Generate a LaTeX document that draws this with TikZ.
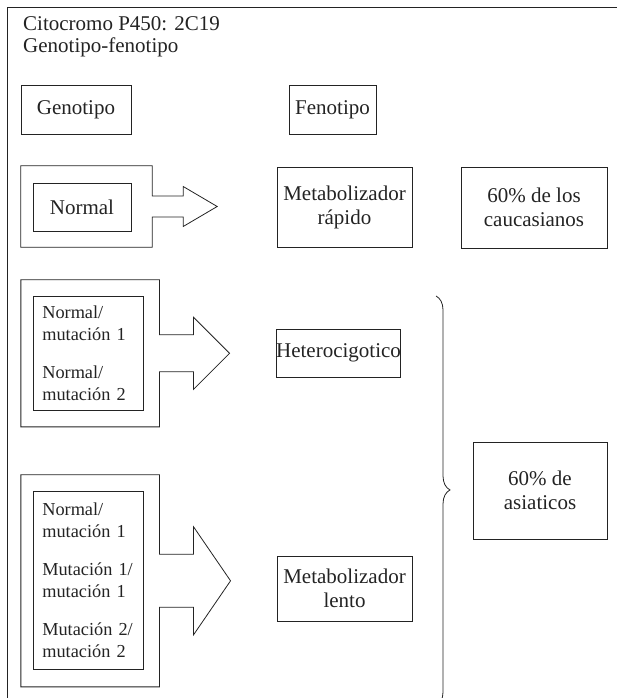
\documentclass[tikz,border=0pt]{standalone}
\usepackage{fontspec}
\setmainfont{Liberation Serif}
\usepackage{tikz}
\usetikzlibrary{calc, decorations.pathreplacing}
\definecolor{myink}{RGB}{35,35,35}
\tikzset{
  textbox/.style={rectangle, draw=myink, text=myink, inner sep=0pt,
    align=center, line width=0.8pt, font=\fontsize{21}{24}\selectfont},
  genbox/.style={rectangle, draw=myink, text=myink, inner xsep=9pt,
    inner ysep=0pt, align=left, line width=0.8pt, font=\fontsize{18.3}{22}\selectfont},
  genframe/.style={rectangle, inner sep=0pt},
  outline/.style={draw=myink, line width=0.8pt, line join=miter},
  frameline/.style={draw=myink, line width=1.1pt}
}
% frame of a genotype group with its block arrow:
% #1 frame node, #2 stem half height, #3 head half height, #4 stem length, #5 head length
\newcommand{\genarrow}[5]{%
  \draw[outline] (#1.north west) -- (#1.north east) -- ($(#1.east)+(0,-#2)$)
    -- ++(#4,0) -- ++(0,#2-#3) -- ++(#5,#3) -- ++(-#5,#3) -- ++(0,#2-#3)
    -- ($(#1.east)+(0,#2)$) -- (#1.south east) -- (#1.south west) -- cycle;}

\begin{document}
\begin{tikzpicture}[x=1pt, y=-1pt]
  \useasboundingbox (0,0) rectangle (617,698);
  \draw[frameline] (617,7.5) -- (7.5,7.5) -- (7.5,698);

  % Title (base is the last line)
  \node[anchor=base west, inner sep=0pt, align=left, text=myink,
    font=\fontsize{21}{22}\selectfont] (title) at (23,53)
    {Citocromo P450: 2C19\\Genotipo-fenotipo};

  % Headers
  \node[textbox, minimum width=110, minimum height=49] (genhead) at (76,109.5) {Genotipo};
  \node[textbox, minimum width=87, minimum height=49] (fenhead) at (332.5,109.5) {Fenotipo};

  % Normal
  \node[genframe, minimum width=131, minimum height=81] (fr1) at (86.5,206.5) {};
  \node[textbox, minimum width=98, minimum height=48] (g1) at (82,207) {Normal};
  \genarrow{fr1}{10.5}{20}{31}{34}
  \node[textbox, minimum width=135, minimum height=80] (rapido) at (344.5,207) {Metabolizador\\r\'apido};
  \node[textbox, minimum width=146, minimum height=81] (cauc) at (534,207.5) {60\% de los\\caucasianos};

  % Heterozygous
  \node[genframe, minimum width=138.3, minimum height=146.7] (fr2) at (90.2,353.3) {};
  \node[genbox, minimum width=110, minimum height=113.3, text width=92] (g2) at (88.3,353.3)
    {Normal/\\mutación 1\\[16pt]Normal/\\mutación 2};
  \genarrow{fr2}{18.5}{36}{34}{36}
  \node[textbox, minimum width=123, minimum height=48] (hetero) at (338.5,353) {Heterocigotico};

  % Slow metabolizers
  \node[genframe, minimum width=138.3, minimum height=211.7] (fr3) at (90.2,580.8) {};
  \node[genbox, minimum width=110, minimum height=178, text width=92] (g3) at (88.3,580)
    {Normal/\\mutación 1\\[16pt]Mutación 1/\\mutación 1\\[16pt]Mutación 2/\\mutación 2};
  \genarrow{fr3}{26.5}{54}{34}{37}
  \node[textbox, minimum width=135, minimum height=65] (lento) at (344.5,588.5) {Metabolizador\\lento};

  % Brace and asian share
  \draw[outline, decorate, decoration={brace, amplitude=14pt, aspect=0.473}] (436,296) -- (436,706);
  \node[textbox, minimum width=134, minimum height=97] (asia) at (540,490.5) {60\% de\\asiaticos};
\end{tikzpicture}
\end{document}
